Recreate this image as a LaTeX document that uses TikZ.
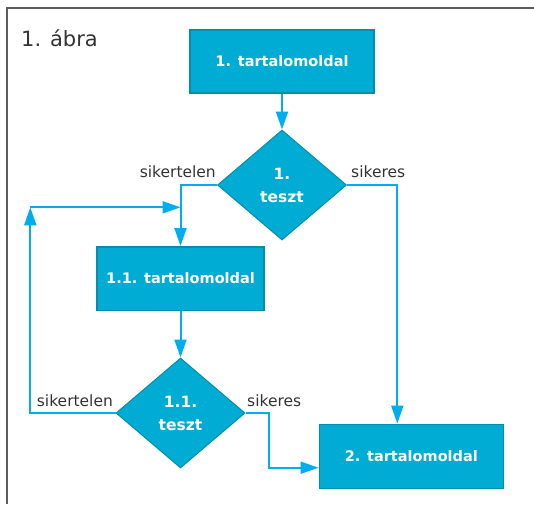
\documentclass[tikz,border=0pt]{standalone}
\usepackage{fontspec}
\setmainfont{DejaVu Sans}
\usetikzlibrary{arrows.meta,shapes.geometric}
\definecolor{boxfill}{HTML}{00ACD4}
\definecolor{boxline}{HTML}{008EAD}
\definecolor{conn}{HTML}{00AEEF}
\definecolor{txt}{HTML}{333333}
\begin{document}
\begin{tikzpicture}[x=1pt,y=-1pt,
  pagebox/.style={draw=boxline,line width=1.5pt,fill=boxfill,minimum width=184pt,minimum height=63pt,inner sep=0pt,text=white,font=\fontsize{14.5}{16}\selectfont\bfseries},
  testbox/.style={diamond,draw=boxline,line width=1pt,fill=boxfill,minimum width=129pt,minimum height=110pt,inner sep=0pt,text=white,font=\fontsize{15.5}{23}\selectfont\bfseries,align=center},
  conline/.style={draw=conn,line width=2pt},
  conarrow/.style={conline,-{Triangle[length=18pt,width=12pt]}},
  lbl/.style={text=txt,font=\fontsize{15.5}{17}\selectfont,inner sep=0pt}]
\useasboundingbox (0,0) rectangle (534,504);
\draw[draw=txt!80,line width=2pt] (7,504) -- (7,8) -- (534,8);
\node[text=txt,font=\fontsize{21}{24}\selectfont,anchor=west,inner sep=0pt] (title) at (21,38) {1. ábra};
\node[pagebox] (p1) at (282,61.5) {1. tartalomoldal};
\node[testbox,shape aspect=1.17] (t1) at (282,185) {1.\\teszt};
\node[pagebox,minimum width=167pt,minimum height=63.5pt] (p11) at (180.5,278.5) {1.1. tartalomoldal};
\node[testbox,shape aspect=1.17] (t11) at (180.5,413) {1.1.\\teszt};
\node[pagebox,minimum height=64pt] (p2) at (411.3,456.3) {2. tartalomoldal};
\coordinate (loopc) at (30.3,207.3);
\coordinate (loopend) at (p11.north |- loopc);
\draw[conarrow] (p1) -- (t1.north);
\draw[conarrow] (t1.west) -| (p11.north);
\draw[conarrow] (t1.east) -| ([xshift=-14pt]p2.north);
\draw[conarrow] (p11) -- (t11.north);
\draw[conarrow] (t11.west) -| (loopc);
\draw[conarrow] (loopc) -- (loopend);
\draw[conarrow] (t11.east) -- ++(23.3,0) |- (p2.west |- 0,467.7);
\node[lbl,anchor=base east] (l1) at (216,177) {sikertelen};
\node[lbl,anchor=base west] (l2) at (351,177) {sikeres};
\node[lbl,anchor=base west] (l3) at (36.7,406) {sikertelen};
\node[lbl,anchor=base west] (l4) at (247,406) {sikeres};
\end{tikzpicture}
\end{document}
